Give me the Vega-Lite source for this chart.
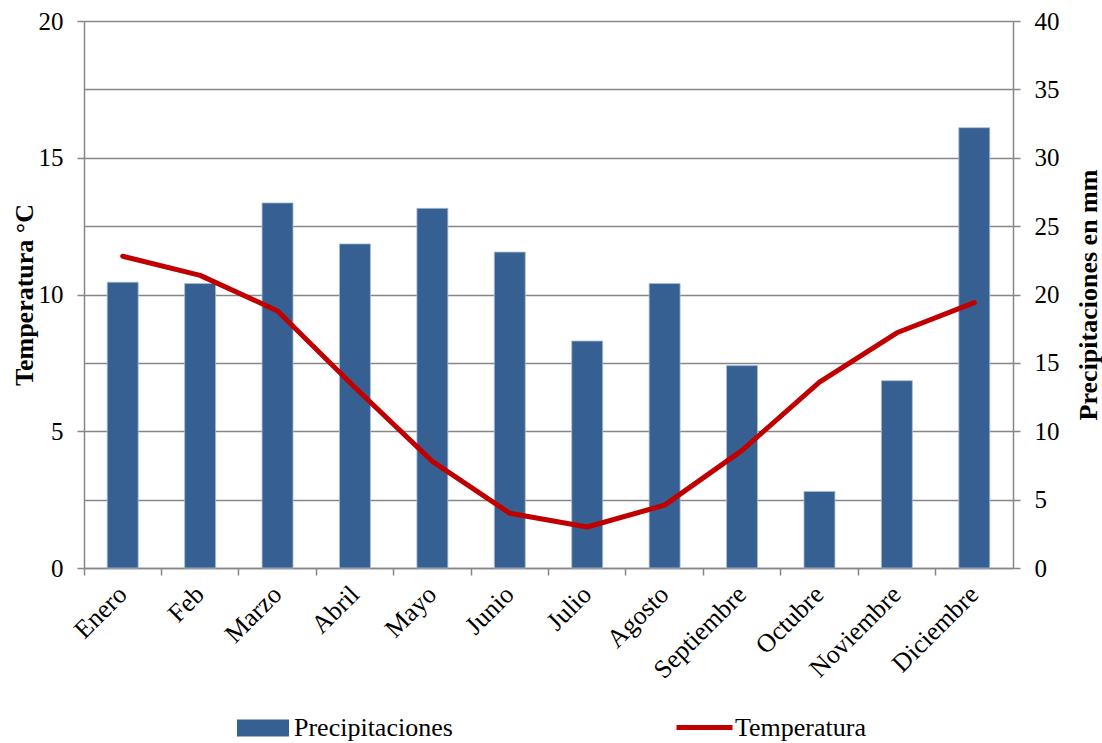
{
  "$schema": "https://vega.github.io/schema/vega-lite/v6.json",
  "width": 929,
  "height": 547,
  "autosize": {"type": "none"},
  "padding": {"left": 84, "top": 21, "right": 89, "bottom": 175},
  "background": "white",
  "config": {
    "view": {"stroke": null},
    "font": "Liberation Serif",
    "axis": {
      "labelFont": "Liberation Serif",
      "labelFontSize": 25,
      "labelColor": "#000000",
      "titleFont": "Liberation Serif",
      "titleFontSize": 26,
      "titleFontWeight": "bold",
      "titleColor": "#000000",
      "domainColor": "#878787",
      "domainWidth": 1.5,
      "tickColor": "#878787",
      "tickWidth": 1.5,
      "tickSize": 7,
      "gridColor": "#878787",
      "gridWidth": 1.3
    },
    "legend": {
      "labelFont": "Liberation Serif",
      "labelFontSize": 26,
      "labelColor": "#000000",
      "labelLimit": 400,
      "padding": 0,
      "symbolOffset": 0
    }
  },
  "data": {
    "values": [
      {"mes": "Enero", "precip": 20.9, "temp": 11.4},
      {"mes": "Feb", "precip": 20.8, "temp": 10.7},
      {"mes": "Marzo", "precip": 26.7, "temp": 9.4},
      {"mes": "Abril", "precip": 23.7, "temp": 6.6},
      {"mes": "Mayo", "precip": 26.3, "temp": 3.9},
      {"mes": "Junio", "precip": 23.1, "temp": 2.0},
      {"mes": "Julio", "precip": 16.6, "temp": 1.5},
      {"mes": "Agosto", "precip": 20.8, "temp": 2.3},
      {"mes": "Septiembre", "precip": 14.8, "temp": 4.3},
      {"mes": "Octubre", "precip": 5.6, "temp": 6.8},
      {"mes": "Noviembre", "precip": 13.7, "temp": 8.6},
      {"mes": "Diciembre", "precip": 32.2, "temp": 9.7}
    ]
  },
  "encoding": {
    "x": {
      "field": "mes",
      "type": "nominal",
      "sort": null,
      "scale": {"paddingInner": 0, "paddingOuter": 0},
      "axis": {
        "title": null,
        "bandPosition": 0,
        "labelFont": "Liberation Serif",
        "labelFontSize": 26,
        "labelAngle": -45,
        "labelAlign": "right",
        "labelBaseline": "middle",
        "labelPadding": 15,
        "grid": false
      }
    }
  },
  "layer": [
    {
      "mark": {"type": "bar", "width": {"band": 0.4}, "stroke": "#a9bcd8", "strokeWidth": 0.8},
      "encoding": {
        "y": {
          "field": "precip",
          "type": "quantitative",
          "scale": {"domain": [0, 40], "nice": false},
          "axis": {
            "orient": "right",
            "title": "Precipitaciones en mm",
            "values": [0, 5, 10, 15, 20, 25, 30, 35, 40],
            "grid": true,
            "labelPadding": 14,
            "titleAngle": -90,
            "titleAlign": "center",
            "titleBaseline": "middle",
            "titleX": 75.5,
            "titleY": 273.5
          }
        },
        "fill": {
          "datum": "Precipitaciones",
          "scale": {"range": ["#376092"]},
          "legend": {
            "title": null,
            "orient": "none",
            "legendX": 153,
            "legendY": 681,
            "symbolType": "M-1,-0.33H1V0.33H-1Z",
            "symbolSize": 2704,
            "symbolStrokeWidth": 0,
            "labelOffset": 5
          }
        }
      }
    },
    {
      "mark": {"type": "line", "strokeWidth": 5, "strokeCap": "round", "strokeJoin": "round"},
      "encoding": {
        "y": {
          "field": "temp",
          "type": "quantitative",
          "scale": {"domain": [0, 20], "nice": false},
          "axis": {
            "orient": "left",
            "title": "Temperatura °C",
            "values": [0, 5, 10, 15, 20],
            "grid": false,
            "labelPadding": 14,
            "titleAngle": -90,
            "titleAlign": "center",
            "titleBaseline": "middle",
            "titleX": -60,
            "titleY": 273.5
          }
        },
        "stroke": {
          "datum": "Temperatura",
          "scale": {"range": ["#C00000"]},
          "legend": {
            "title": null,
            "orient": "none",
            "legendX": 590,
            "legendY": 676,
            "symbolType": "stroke",
            "symbolSize": 3136,
            "symbolStrokeWidth": 5,
            "labelOffset": 0
          }
        }
      }
    }
  ],
  "resolve": {"scale": {"y": "independent", "fill": "independent", "stroke": "independent"}}
}
